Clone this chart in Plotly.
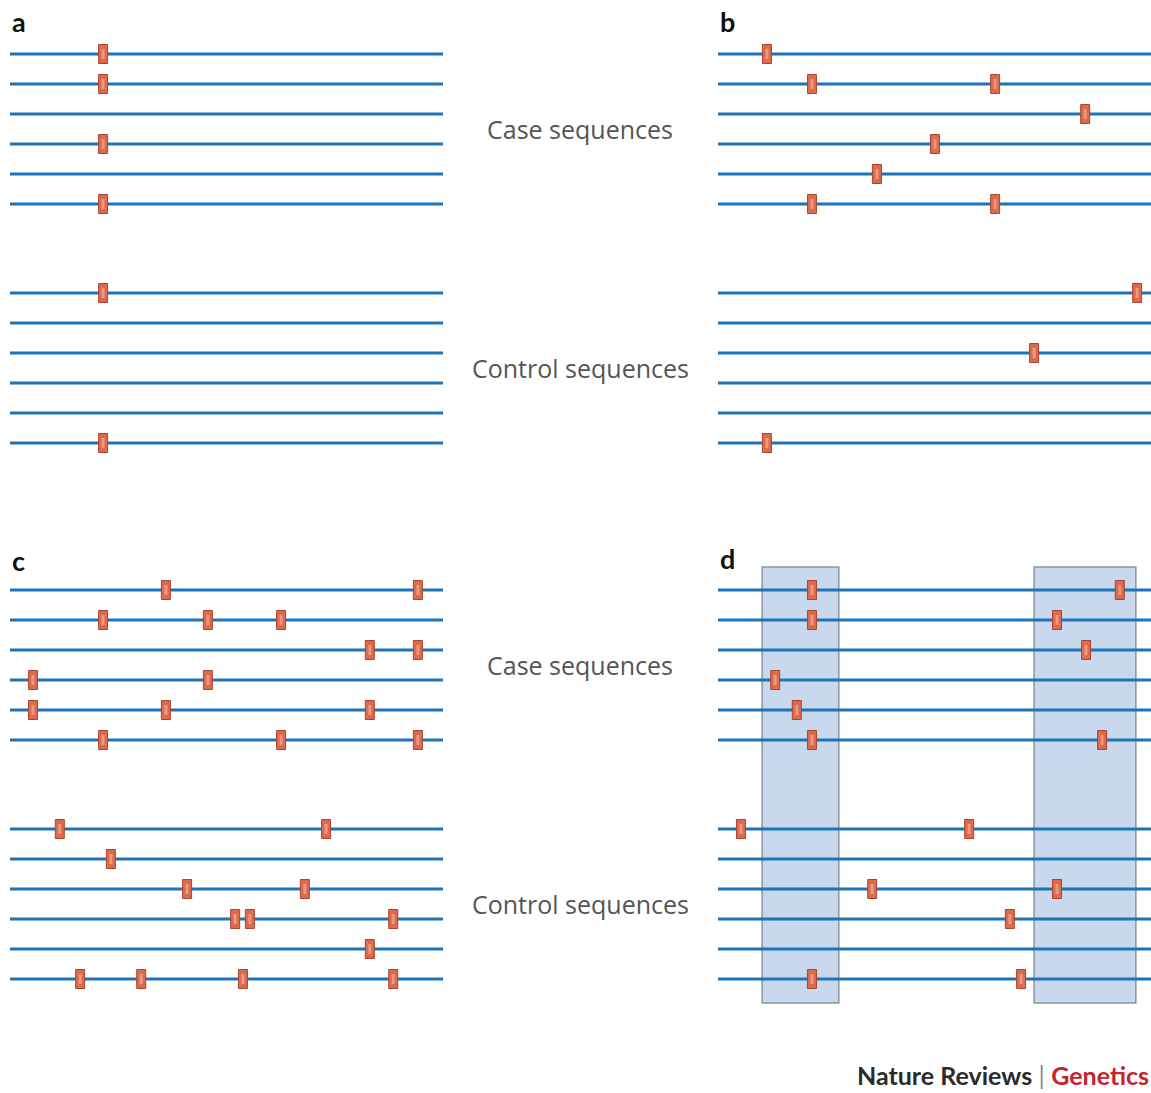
import plotly.graph_objects as go

W, H = 1151, 1093

# ---- data: variant positions (0-100 along each sequence), per row ----
# rows 0-5 are case sequences, rows 6-11 are control sequences
panel_a_case = [[21.5], [21.5], [], [21.5], [], [21.5]]
panel_a_ctrl = [[21.5], [], [], [], [], [21.5]]

panel_b_case = [[11.3], [21.7, 64.0], [84.8], [50.1], [36.7], [21.7, 64.0]]
panel_b_ctrl = [[96.8], [], [73.0], [], [], [11.3]]

panel_c_case = [[36.0, 94.2], [21.5, 45.7, 62.6], [83.1, 94.2], [5.3, 45.7],
                [5.3, 36.0, 83.1], [21.5, 62.6, 94.2]]
panel_c_ctrl = [[11.5, 73.0], [23.3], [40.9, 68.1], [52.0, 55.4, 88.5],
                [83.1], [16.2, 30.3, 53.8, 88.5]]

panel_d_case = [[21.7, 92.8], [21.7, 78.3], [85.0], [13.2], [18.2], [21.7, 88.7]]
panel_d_ctrl = [[5.3, 58.0], [], [35.6, 78.3], [67.4], [], [21.7, 70.0]]

# highlighted windows in panel d (sequence position ranges)
d_windows = [(10.2, 27.9), (73.0, 96.5)]

group_labels = ["Case sequences", "Control sequences"]
panel_letters = ["a", "b", "c", "d"]

ROW_STEP = 1.0
CTRL_OFFSET = 7.967  # vertical gap between case and control blocks (row units)

def row_y(i, group):
    return i * ROW_STEP + (CTRL_OFFSET if group == 1 else 0.0)

LINE_COLOR = "#1f73b7"
MARK_FILL = "#dc6a4e"
MARK_EDGE = "#a9452f"
MARK_HI = "#f3a487"

fig = go.Figure()

panels = [
    ("x", "y", panel_a_case, panel_a_ctrl),
    ("x2", "y2", panel_b_case, panel_b_ctrl),
    ("x3", "y3", panel_c_case, panel_c_ctrl),
    ("x4", "y4", panel_d_case, panel_d_ctrl),
]

shapes = []
for xa, ya, case, ctrl in panels:
    xs, ys = [], []
    for g, rows in enumerate([case, ctrl]):
        for i in range(len(rows)):
            y = row_y(i, g)
            xs += [0, 100, None]
            ys += [y, y, None]
    fig.add_trace(go.Scatter(x=xs, y=ys, mode="lines", xaxis=xa, yaxis=ya,
                             line=dict(color=LINE_COLOR, width=3),
                             hoverinfo="skip", showlegend=False))
    for g, rows in enumerate([case, ctrl]):
        for i, positions in enumerate(rows):
            y = row_y(i, g)
            for p in positions:
                shapes.append(dict(type="rect", xref=xa, yref=ya,
                                   xsizemode="pixel", ysizemode="pixel",
                                   xanchor=p, yanchor=y,
                                   x0=-4.5, x1=4.5, y0=-9.5, y1=9.5,
                                   fillcolor=MARK_FILL,
                                   line=dict(color=MARK_EDGE, width=1),
                                   layer="above"))
                shapes.append(dict(type="rect", xref=xa, yref=ya,
                                   xsizemode="pixel", ysizemode="pixel",
                                   xanchor=p, yanchor=y,
                                   x0=-1.5, x1=1.5, y0=-5, y1=5,
                                   fillcolor=MARK_HI, opacity=0.8,
                                   line=dict(width=0),
                                   layer="above"))

# panel d windows
top = row_y(0, 0) - 0.77
bottom = row_y(5, 1) + 0.8
for (w0, w1) in d_windows:
    shapes.append(dict(type="rect", xref="x4", yref="y4", x0=w0, x1=w1,
                       y0=top, y1=bottom, fillcolor="#c9d8ec",
                       line=dict(color="#8e949c", width=1.5), layer="below"))

def px_dom_x(a, b):
    return [a / W, b / W]

def px_dom_y(top_px, bot_px):
    return [1 - bot_px / H, 1 - top_px / H]

pad_top, pad_bot = 24, 416
yr = [pad_bot / 30.0, -pad_top / 30.0]

axes = {}
for n, (xd, r1) in enumerate([((10, 443), 54), ((718, 1151), 54),
                              ((10, 443), 590), ((718, 1151), 590)], start=1):
    sx = "" if n == 1 else str(n)
    axes[f"xaxis{sx}"] = dict(domain=px_dom_x(*xd), range=[0, 100],
                              visible=False, fixedrange=True,
                              anchor=f"y{sx}")
    axes[f"yaxis{sx}"] = dict(domain=px_dom_y(r1 - pad_top, r1 + pad_bot),
                              range=yr, visible=False, fixedrange=True,
                              anchor=f"x{sx}")

annotations = []
label_font = dict(family="'Open Sans', sans-serif", size=25, color="#555555")
for ya in ["y", "y3"]:
    for g, txt in enumerate(group_labels):
        yv = row_y(0, g) + 2.5
        annotations.append(dict(text=txt, xref="paper", yref=ya,
                                x=580 / W, y=yv, showarrow=False,
                                xanchor="center", yanchor="middle",
                                font=label_font))

letter_pos = [(10, 22), (718, 22), (10, 560), (718, 558)]
for letter, (lx, ly) in zip(panel_letters, letter_pos):
    annotations.append(dict(text=f"<b>{letter}</b>", xref="paper", yref="paper",
                            x=lx / W, y=1 - ly / H, showarrow=False,
                            xanchor="left", yanchor="middle",
                            font=dict(family="Lato, 'Open Sans', sans-serif",
                                      size=27, color="#111111")))

annotations.append(dict(
    text="<b><span style='color:#2b2b2b'>Nature Reviews</span></b>"
         "<span style='color:#888888'> | </span>"
         "<b><span style='color:#c8232c'>Genetics</span></b>",
    xref="paper", yref="paper", x=1150 / W, y=1 - 1075 / H,
    showarrow=False, xanchor="right", yanchor="middle", borderpad=0,
    font=dict(family="Lato, 'Open Sans', sans-serif", size=25)))

fig.update_layout(width=W, height=H, margin=dict(l=0, r=0, t=0, b=0),
                  paper_bgcolor="white", plot_bgcolor="rgba(0,0,0,0)",
                  shapes=shapes, annotations=annotations, showlegend=False,
                  **axes)

fig.write_html("out.html")
